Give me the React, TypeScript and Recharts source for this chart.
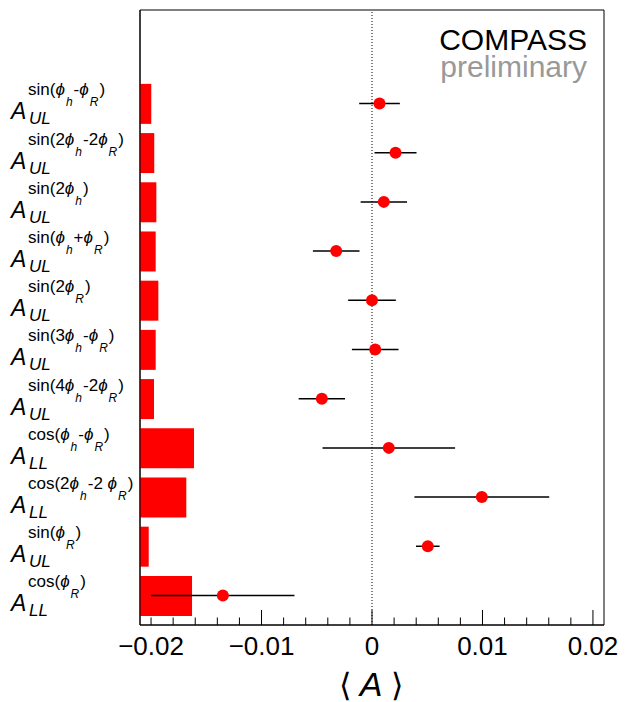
import React from 'react';
import {
  ComposedChart,
  Bar,
  Scatter,
  ErrorBar,
  XAxis,
  YAxis,
  ReferenceLine,
  ReferenceArea,
} from 'recharts';

const FONT = '"Liberation Sans", Arial, Helvetica, sans-serif';

const rows = [1, 2, 3, 4, 5, 6, 7, 8, 9, 10, 11];
const polarisation = ['UL', 'UL', 'UL', 'UL', 'UL', 'UL', 'UL', 'LL', 'LL', 'UL', 'LL'];
const modulation = [
  'sin(ϕ_h-ϕ_R)',
  'sin(2ϕ_h-2ϕ_R)',
  'sin(2ϕ_h)',
  'sin(ϕ_h+ϕ_R)',
  'sin(2ϕ_R)',
  'sin(3ϕ_h-ϕ_R)',
  'sin(4ϕ_h-2ϕ_R)',
  'cos(ϕ_h-ϕ_R)',
  'cos(2ϕ_h-2 ϕ_R)',
  'sin(ϕ_R)',
  'cos(ϕ_R)',
];
const asymmetry = [0.00068, 0.00213, 0.00107, -0.00324, 0.0, 0.00029, -0.00454, 0.00152, 0.00994, 0.00505, -0.0135];
const statError = [0.00184, 0.0019, 0.0021, 0.00211, 0.00216, 0.00211, 0.0021, 0.006, 0.0061, 0.00107, 0.00648];
const systError = [0.00102, 0.00129, 0.00148, 0.00142, 0.00166, 0.00142, 0.00127, 0.00489, 0.00419, 0.00079, 0.00471];

const xTicks = [
  -0.02, -0.018, -0.016, -0.014, -0.012, -0.01, -0.008, -0.006, -0.004, -0.002, 0,
  0.002, 0.004, 0.006, 0.008, 0.01, 0.012, 0.014, 0.016, 0.018, 0.02,
];
const labelTicks = [-0.02, -0.01, 0, 0.01, 0.02];
const longTicks = [-0.01, 0, 0.01, 0.02];

const X_MIN = -0.021;
const X_MAX = 0.021;
const Y_MIN = -0.9;
const Y_MAX = 11.6;

const data = rows.map((row, i) => ({
  row,
  val: asymmetry[i],
  stat: statError[i],
  sys: systError[i],
}));

const near = (list: number[], v: number) => list.some((m) => Math.abs(m - v) < 1e-9);

function XTick(props: any) {
  const { x, y, payload } = props;
  const v = payload.value as number;
  const len = near(longTicks, v) ? 15 : 7.5;
  let label = '';
  if (near(labelTicks, v)) {
    label = v === 0 ? '0' : (v < 0 ? '\u2212' : '') + Math.abs(v).toString();
  }
  return (
    <g>
      <line x1={x} x2={x} y1={y} y2={y - len} stroke="#000" strokeWidth={1} />
      {label && (
        <text x={x} y={y + 30} textAnchor="middle" fontSize={26} fontFamily={FONT} fill="#000">
          {label}
        </text>
      )}
    </g>
  );
}

// superscript like "sin(2ϕ_h-ϕ_R)" -> tspans with nested subscripts
function supParts(s: string) {
  return s.split(/(ϕ_[hR])/).filter((p) => p !== '');
}

const SUB_DY = 11;

function YTick(props: any) {
  const { y, payload } = props;
  const i = rows.indexOf(payload.value);
  if (i < 0) return null;
  const parts = supParts(modulation[i]);
  const spans: React.ReactNode[] = [];
  let lowered = false;
  parts.forEach((p, k) => {
    if (p.startsWith('ϕ_')) {
      spans.push(
        <tspan key={`p${k}`} fontStyle="italic" dy={lowered ? -SUB_DY : 0}>
          ϕ
        </tspan>
      );
      spans.push(
        <tspan key={`s${k}`} fontSize={12} fontStyle="italic" dx={1} dy={SUB_DY}>
          {p.slice(2)}
        </tspan>
      );
      lowered = true;
    } else {
      spans.push(
        <tspan key={`t${k}`} dx={lowered ? 1 : 0} dy={lowered ? -SUB_DY : 0}>
          {p}
        </tspan>
      );
      lowered = false;
    }
  });
  return (
    <g fontFamily={FONT} fill="#000">
      <text x={11} y={y + 16} fontSize={23} fontStyle="italic">
        A
      </text>
      <text x={29} y={y + 21} fontSize={17} fontStyle="italic">
        {polarisation[i]}
      </text>
      <text x={28} y={y - 8} fontSize={17}>
        {spans}
      </text>
    </g>
  );
}

const Dot = (p: any) => <circle cx={p.cx} cy={p.cy} r={6} fill="#ff0000" />;

export default function App() {
  return (
    <div style={{ position: 'absolute', left: 0, top: 0 }}>
      <ComposedChart
        width={635}
        height={702}
        data={data}
        layout="vertical"
        margin={{ top: 10, right: 31, bottom: 0, left: 20 }}
      >
        <XAxis
          type="number"
          dataKey="val"
          domain={[X_MIN, X_MAX]}
          allowDataOverflow
          ticks={xTicks}
          interval={0}
          tickLine={false}
          tickSize={0}
          tickMargin={0}
          tick={<XTick />}
          axisLine={{ stroke: '#000' }}
          height={77}
        />
        <YAxis
          type="number"
          dataKey="row"
          domain={[Y_MIN, Y_MAX]}
          allowDataOverflow
          ticks={rows}
          interval={0}
          tickLine={false}
          tick={<YTick />}
          axisLine={{ stroke: '#000' }}
          width={120}
        />
        <ReferenceArea
          x1={X_MIN}
          x2={X_MAX}
          y1={Y_MIN}
          y2={Y_MAX}
          fill="none"
          fillOpacity={0}
          stroke="#000"
          strokeWidth={1}
          ifOverflow="visible"
        />
        <Bar
          dataKey={(d: any) => [X_MIN, X_MIN + d.sys]}
          fill="#ff0000"
          barSize={40}
          isAnimationActive={false}
        />
        <ReferenceLine x={0} stroke="#000" strokeDasharray="1 2" strokeWidth={1} ifOverflow="visible" />
        <Scatter data={data} shape={Dot} isAnimationActive={false}>
          <ErrorBar dataKey="stat" direction="x" width={0} stroke="#000" strokeWidth={1.5} />
        </Scatter>
        <text x={587} y={50} textAnchor="end" fontSize={30} fontFamily={FONT} fill="#000">
          COMPASS
        </text>
        <text x={587} y={77} textAnchor="end" fontSize={30} fontFamily={FONT} fill="#999999">
          preliminary
        </text>
        <text x={371} y={696} textAnchor="middle" fontFamily={FONT} fill="#000">
          <tspan fontSize={32}>{'\u27e8 '}</tspan>
          <tspan fontSize={34} fontStyle="italic">A</tspan>
          <tspan fontSize={32}>{' \u27e9'}</tspan>
        </text>
      </ComposedChart>
    </div>
  );
}
